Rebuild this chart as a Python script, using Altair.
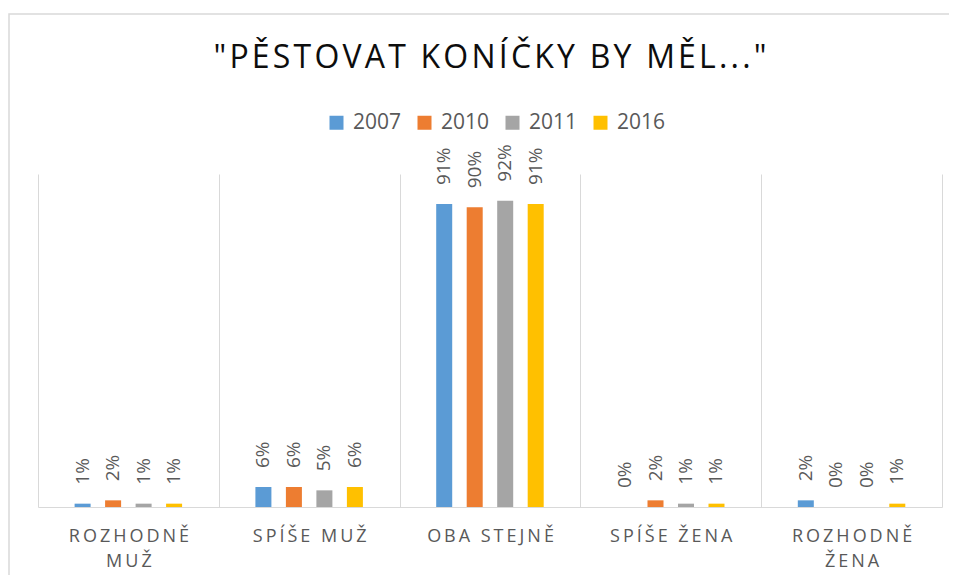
import altair as alt
import pandas as pd

# ---- data ----
categories = ["ROZHODNĚ MUŽ", "SPÍŠE MUŽ", "OBA STEJNĚ", "SPÍŠE ŽENA", "ROZHODNĚ ŽENA"]
years = ["2007", "2010", "2011", "2016"]
values_2007 = [1, 6, 91, 0, 2]
values_2010 = [2, 6, 90, 2, 0]
values_2011 = [1, 5, 92, 1, 0]
values_2016 = [1, 6, 91, 1, 1]
colors = ["#5B9BD5", "#ED7D31", "#A5A5A5", "#FFC000"]
title_text = '"PĚSTOVAT KONÍČKY BY MĚL..."'

TS = "\u2009"  # thin space used as letter spacing (axis labels)
HS = "\u200A"  # hair space used as letter spacing (title)


def spaced(s, sep=TS):
    return sep.join(s)


def axis_label(cat):
    lines = cat.split(" ") if len(cat) > 10 else [cat]
    return "|".join(spaced(line) for line in lines)


display = [axis_label(c) for c in categories]
series = {"2007": values_2007, "2010": values_2010, "2011": values_2011, "2016": values_2016}

rows = []
for i, cat in enumerate(display):
    for y in years:
        rows.append({"category": cat, "year": y, "value": series[y][i]})
df = pd.DataFrame(rows)

FONT = "Open Sans"
GRAY = "#595959"
LINE = "#d9d9d9"

base = alt.Chart(df).encode(
    x=alt.X(
        "category:N",
        sort=display,
        scale=alt.Scale(paddingInner=0, paddingOuter=0),
        axis=alt.Axis(
            title=None,
            labelAngle=0,
            labelExpr="split(datum.label, '|')",
            labelFont=FONT,
            labelFontSize=18,
            labelColor=GRAY,
            labelPadding=20,
            labelLineHeight=25,
            labelBaseline="top",
            labelLimit=400,
            ticks=False,
            domainColor=LINE,
            domainWidth=1,
            grid=True,
            gridColor=LINE,
            gridWidth=1,
            tickBand="extent",
        ),
    ),
    xOffset=alt.XOffset(
        "year:N", sort=years,
        scale=alt.Scale(range=[36.6, 144.1], paddingInner=0.475, paddingOuter=0),
    ),
    y=alt.Y("value:Q", scale=alt.Scale(domain=[0, 100]), axis=None),
)

bars = base.mark_bar().encode(
    color=alt.Color(
        "year:N",
        sort=years,
        scale=alt.Scale(domain=years, range=colors),
        legend=alt.Legend(
            title=None,
            orient="none",
            legendX=288,
            legendY=-62,
            direction="horizontal",
            symbolType="square",
            symbolSize=196,
            symbolStrokeWidth=0,
            labelFont=FONT,
            labelFontSize=21,
            labelColor=GRAY,
            labelOffset=6,
            columnPadding=12,
        ),
    )
)

labels = base.mark_text(
    angle=270,
    align="left",
    baseline="middle",
    dx=19,
    font=FONT,
    fontSize=19,
    color=GRAY,
).encode(text=alt.Text("label:N")).transform_calculate(label="datum.value + '%'")

frame = alt.Chart(alt.Data(values=[{"a": 1}])).mark_rect(
    fill="transparent", stroke=LINE, strokeWidth=1.5
).encode(
    x=alt.value(-29),
    x2=alt.value(1200),
    y=alt.value(-160),
    y2=alt.value(1200),
)

chart = (
    alt.layer(frame, bars, labels)
    .properties(
        width=904,
        height=333,
        background="white",
        title=alt.Title(
            spaced(title_text, HS),
            font=FONT,
            fontSize=32,
            fontWeight="normal",
            color="#0d0d0d",
            anchor="middle",
            frame="group",
            baseline="alphabetic",
            offset=0,
            dy=87,
        ),
        autosize=alt.AutoSizeParams(type="none"),
        padding={"left": 30, "top": 166, "right": 7, "bottom": 68},
    )
    .configure_view(stroke="transparent", strokeWidth=0)
)

chart.save("out.html", embed_options={"renderer": "svg", "actions": False})
